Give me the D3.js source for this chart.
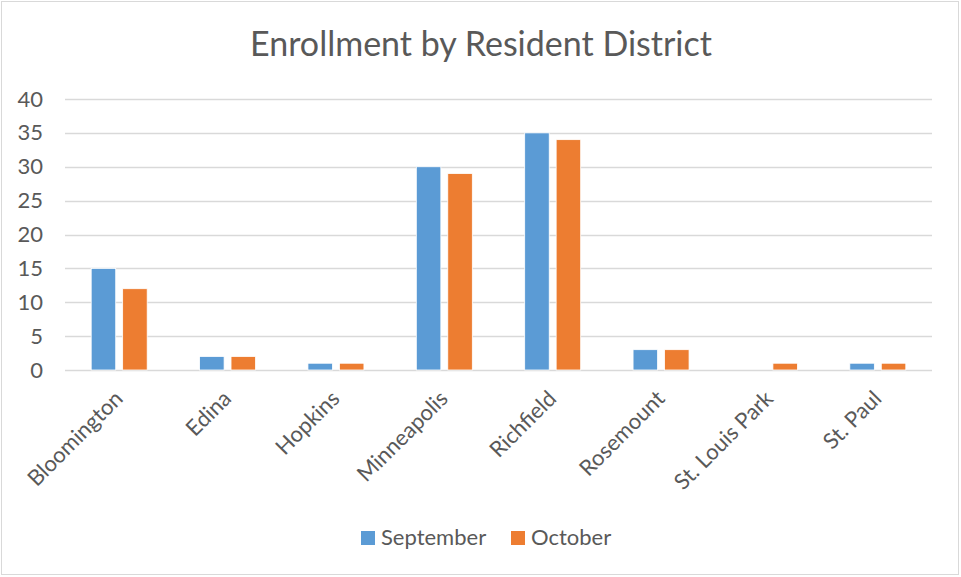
<!DOCTYPE html>
<html>
<head>
<meta charset="utf-8">
<script src="https://cdn.jsdelivr.net/npm/d3@7"></script>
<style>
  body { margin: 0; background: #fff; }
  text { font-family: Lato, "Open Sans", sans-serif; fill: #595959; }
</style>
</head>
<body>
<svg id="chart" width="961" height="577"></svg>
<script>
var districts = ["Bloomington", "Edina", "Hopkins", "Minneapolis", "Richfield", "Rosemount", "St. Louis Park", "St. Paul"];
var september = [15, 2, 1, 30, 35, 3, 0, 1];
var october = [12, 2, 1, 29, 34, 3, 1, 1];
var yTicks = [0, 5, 10, 15, 20, 25, 30, 35, 40];
var seriesNames = ["September", "October"];
var colors = ["#5B9BD5", "#ED7D31"];

var svg = d3.select("#chart");

// chart frame
svg.append("rect")
    .attr("x", 1.5).attr("y", 1.5)
    .attr("width", 957).attr("height", 573)
    .attr("fill", "#fff")
    .attr("stroke", "#D9D9D9")
    .attr("stroke-width", 1);

var margin = {top: 99, right: 29, bottom: 207, left: 65},
    width = 961 - margin.left - margin.right,
    height = 577 - margin.top - margin.bottom,
    g = svg.append("g").attr("transform", "translate(" + margin.left + "," + margin.top + ")");

var x = d3.scaleBand().domain(districts).range([0, width]);
var x1 = d3.scaleBand().domain(seriesNames).range([x.bandwidth() / 2 - 28, x.bandwidth() / 2 + 28]).paddingInner(0.22);
var y = d3.scaleLinear().domain([0, 40]).range([height, 0]);

// title
svg.append("text")
    .attr("x", 481).attr("y", 56)
    .attr("text-anchor", "middle")
    .style("font-size", "34px")
    .text("Enrollment by Resident District");

// gridlines
g.append("g")
    .selectAll("line")
    .data(yTicks)
    .enter().append("line")
      .attr("x1", 0).attr("x2", width)
      .attr("y1", function(d) { return Math.round(y(d)) + 0.5; })
      .attr("y2", function(d) { return Math.round(y(d)) + 0.5; })
      .attr("stroke", "#D9D9D9")
      .attr("stroke-width", 1.3);

// y axis labels
var yAxis = g.append("g")
    .call(d3.axisLeft(y).tickValues(yTicks).tickSize(0).tickPadding(22));
yAxis.select(".domain").remove();
yAxis.selectAll("text")
    .style("font-size", "22px")
    .attr("fill", "#595959");

// bars
var rows = districts.map(function(d, i) {
  return {name: d, values: [september[i], october[i]]};
});

var grp = g.selectAll(".district")
  .data(rows)
  .enter().append("g")
    .attr("class", "district")
    .attr("transform", function(d) { return "translate(" + x(d.name) + ",0)"; });

grp.selectAll("rect")
  .data(function(d) { return d.values.map(function(v, j) { return {key: seriesNames[j], value: v, c: colors[j]}; }); })
  .enter().append("rect")
    .filter(function(d) { return d.value > 0; })
    .attr("x", function(d) { return x1(d.key); })
    .attr("y", function(d) { return y(d.value); })
    .attr("width", x1.bandwidth())
    .attr("height", function(d) { return y(0) - y(d.value); })
    .attr("fill", function(d) { return d.c; })
    .attr("stroke", "#fff")
    .attr("stroke-width", 0.8);

// x axis labels
var xAxis = g.append("g")
    .attr("transform", "translate(0," + height + ")")
    .call(d3.axisBottom(x).tickSize(0).tickPadding(0));
xAxis.select(".domain").remove();
xAxis.selectAll("text")
    .style("font-size", "22px")
    .attr("fill", "#595959")
    .attr("text-anchor", "end")
    .attr("dy", "0")
    .attr("transform", "translate(5,30) rotate(-45)");

// legend
var legend = svg.append("g").attr("transform", "translate(361,531)");
var item = legend.selectAll("g")
  .data(seriesNames)
  .enter().append("g")
    .attr("transform", function(d, i) { return "translate(" + (i * 150) + ",0)"; });
item.append("rect")
    .attr("width", 14).attr("height", 14)
    .attr("fill", function(d, i) { return colors[i]; });
item.append("text")
    .attr("x", 20).attr("y", 14)
    .style("font-size", "22px")
    .text(function(d) { return d; });
</script>
</body>
</html>
